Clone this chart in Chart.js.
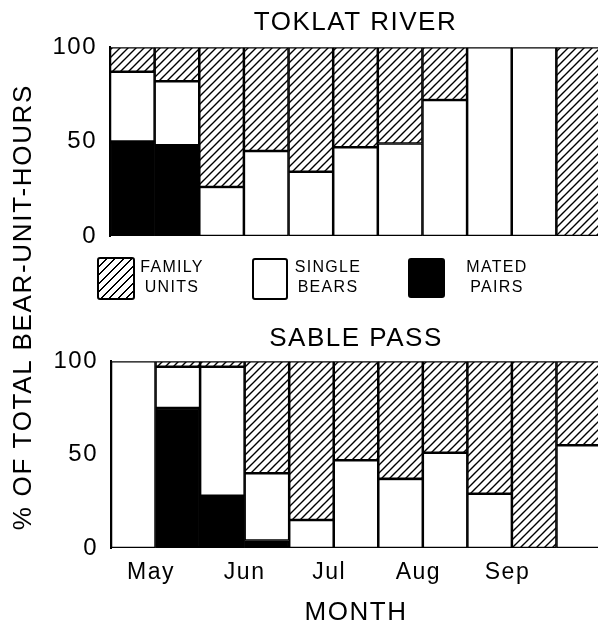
<!DOCTYPE html>
<html>
<head>
<meta charset="utf-8">
<script src="https://cdn.jsdelivr.net/npm/chart.js@4"></script>
<style>
  html, body { margin: 0; padding: 0; background: #fff; }
  #wrap { position: relative; width: 598px; height: 628px; overflow: hidden; background: #fff; }
  canvas { position: absolute; left: 0; }
  #top { top: 0; }
  #bottom { top: 300px; }
  .lbl { position: absolute; font-family: "Liberation Sans", sans-serif; color: #000; }
  #ytitle {
    left: -208px; top: 291px; width: 460px; height: 32px; line-height: 32px;
    font-size: 26px; letter-spacing: 1.7px; text-align: center; transform: rotate(-90deg);
  }
  .box { position: absolute; border: 2px solid #000; border-radius: 3px; box-sizing: border-box; }
  .hatch { background: repeating-linear-gradient(135deg, #fff 0 4.5px, #000 4.5px 6px); }
  .leg { font-size: 16px; letter-spacing: 1.3px; line-height: 20px; text-align: center; }
</style>
</head>
<body>
<div id="wrap">
  <canvas id="top" width="601" height="262"></canvas>
  <canvas id="bottom" width="601" height="328"></canvas>
  <div id="ytitle" class="lbl">% OF TOTAL BEAR-UNIT-HOURS</div>
  <div class="box hatch" style="left:97px; top:257px; width:38px; height:43px;"></div>
  <div class="lbl leg" style="left:136px; top:257px; width:72px;">FAMILY<br>UNITS</div>
  <div class="box" style="left:252px; top:258px; width:36px; height:42px; background:#fff;"></div>
  <div class="lbl leg" style="left:291px; top:257px; width:74px;">SINGLE<br>BEARS</div>
  <div class="box" style="left:408px; top:258px; width:37px; height:40px; background:#000;"></div>
  <div class="lbl leg" style="left:455px; top:257px; width:84px;">MATED<br>PAIRS</div>
</div>
<script>
// half-month periods, May through mid-October
const periods = ['1', '2', '3', '4', '5', '6', '7', '8', '9', '10', '11'];

// Toklat River, % of bear-unit-hours
const toklatMated = [50, 48, 0, 0, 0, 0, 0, 0, 0, 0, 0];
const toklatSingle = [37, 34, 26, 45, 34, 47, 49, 72, 100, 100, 0];
const toklatFamily = [13, 18, 74, 55, 66, 53, 51, 28, 0, 0, 100];

// Sable Pass, % of bear-unit-hours
const sableMated = [0, 75, 28, 4, 0, 0, 0, 0, 0, 0, 0];
const sableSingle = [100, 22, 69, 36, 15, 47, 37, 51, 29, 0, 55];
const sableFamily = [0, 3, 3, 60, 85, 53, 63, 49, 71, 100, 45];

// month tick labels and where they sit along the period axis
const monthLabels = ['May', 'Jun', 'Jul', 'Aug', 'Sep'];
const monthTickPos = [0.4, 2.5, 4.4, 6.4, 8.4];

const FONT = '"Liberation Sans", sans-serif';


function hatchPattern(ctx) {
    const s = 8;
    const c = document.createElement('canvas');
    c.width = s;
    c.height = s;
    const g = c.getContext('2d');
    g.fillStyle = '#fff';
    g.fillRect(0, 0, s, s);
    g.strokeStyle = '#000';
    g.lineWidth = 1.4;
    g.beginPath();
    g.moveTo(0, s); g.lineTo(s, 0);
    g.moveTo(-1, 1); g.lineTo(1, -1);
    g.moveTo(s - 1, s + 1); g.lineTo(s + 1, s - 1);
    g.stroke();
    return ctx.createPattern(c, 'repeat');
}

// wider lettering, like the original stencil text
const spacing = {
    id: 'spacing',
    beforeUpdate: chart => { chart.ctx.letterSpacing = '1.5px'; },
    beforeDraw: chart => { chart.ctx.letterSpacing = '1.5px'; }
};


function barSet(label, data, color) {
    return {
        label: label,
        data: data,
        backgroundColor: color,
        borderColor: '#000',
        borderWidth: 1.6,
        borderSkipped: false,
        barPercentage: 1,
        categoryPercentage: 1
    };
}


function yScale(axisWidth) {
    return {
        stacked: true,
        min: 0,
        max: 100,
        ticks: {
            stepSize: 50,
            color: '#000',
            padding: 5,
            font: { family: FONT, size: 24 }
        },
        grid: { display: false },
        border: { display: true, color: '#000', width: 2 },
        afterFit: s => { s.width = axisWidth; }
    };
}


function makeChart(canvasId, title, titlePad, mated, single, family, withMonths) {
    const ctx = document.getElementById(canvasId).getContext('2d');
    const hatch = hatchPattern(ctx);

    const scales = {
        x: { stacked: true, display: false },
        y: yScale(withMonths ? 111 : 110)
    };
    if (withMonths) {
        scales.month = {
            type: 'linear',
            position: 'bottom',
            offset: false,
            min: -0.5,
            max: periods.length - 0.5,
            afterBuildTicks: s => { s.ticks = monthTickPos.map(v => ({ value: v })); },
            ticks: {
                color: '#000',
                padding: 11,
                autoSkip: false,
                maxRotation: 0,
                font: { family: FONT, size: 23 },
                callback: (v, i) => monthLabels[i]
            },
            grid: { display: false, drawTicks: false, offset: false },
            border: { display: false },
            title: {
                display: true,
                text: 'MONTH',
                color: '#000',
                font: { family: FONT, size: 26 },
                padding: { top: 0, bottom: 0 }
            },
            afterFit: s => { s.height = 80; }
        };
    }

    return new Chart(ctx, {
        type: 'bar',
        data: {
            labels: periods,
            datasets: [
                barSet('MATED PAIRS', mated, '#000'),
                barSet('SINGLE BEARS', single, '#fff'),
                barSet('FAMILY UNITS', family, hatch)
            ]
        },
        options: {
            responsive: false,
            animation: false,
            layout: { padding: { left: 0, right: 0, top: 0, bottom: withMonths ? 0 : 26 } },
            scales: scales,
            plugins: {
                legend: { display: false },
                tooltip: { enabled: false },
                title: {
                    display: true,
                    text: title,
                    color: '#000',
                    fullSize: false,
                    font: { family: FONT, size: 26, weight: 'normal' },
                    padding: titlePad
                }
            }
        },
        plugins: [spacing]
    });
}


makeChart('top', 'TOKLAT RIVER', { top: 7, bottom: 9 },
    toklatMated, toklatSingle, toklatFamily, false);
makeChart('bottom', 'SABLE PASS', { top: 23, bottom: 7 },
    sableMated, sableSingle, sableFamily, true);
</script>
</body>
</html>
